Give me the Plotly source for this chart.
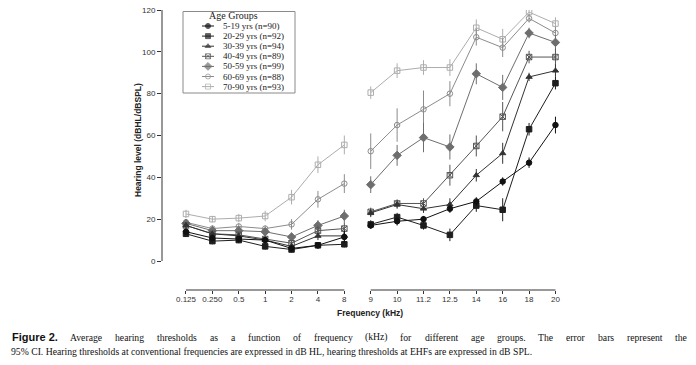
import plotly.graph_objects as go

# ---------------- data ----------------
freq_conv = ["0.125", "0.250", "0.5", "1", "2", "4", "8"]
freq_ehf = ["9", "10", "11.2", "12.5", "14", "16", "18", "20"]

group_labels = ["5-19 yrs (n=90)", "20-29 yrs (n=92)", "30-39 yrs (n=94)",
                "40-49 yrs (n=89)", "50-59 yrs (n=99)", "60-69 yrs (n=88)",
                "70-90 yrs (n=93)"]

# mean thresholds, conventional frequencies (dB HL)
conv_5_19 = [14, 11, 10.5, 10, 6, 7.5, 11.5]
conv_20_29 = [13, 9.5, 10, 7, 5.5, 7.5, 8]
conv_30_39 = [17, 13, 12, 10, 7, 12, 12]
conv_40_49 = [17, 13, 12.5, 10.5, 8.5, 14.5, 15.5]
conv_50_59 = [18, 14.5, 14.5, 14, 11.5, 17, 21.5]
conv_60_69 = [18.5, 15.5, 16.5, 15.5, 17.5, 29.5, 37]
conv_70_90 = [22.5, 20, 20.5, 21.5, 30.5, 46, 55.5]

# mean thresholds, extended high frequencies (dB SPL)
ehf_5_19 = [17, 19, 20, 25, 28.5, 38, 47, 65]
ehf_20_29 = [17.5, 21, 17, 12.5, 26.5, 24.5, 63, 85]
ehf_30_39 = [23, 27, 25, 27, 41, 51.5, 88, 91]
ehf_40_49 = [23.5, 27.5, 27.5, 41, 55, 69, 97.5, 97.5]
ehf_50_59 = [36.5, 50.5, 59, 54.5, 89.5, 83, 109, 104.5]
ehf_60_69 = [52.5, 65, 72.5, 80, 107, 102, 116, 109]
ehf_70_90 = [80.5, 91, 92.5, 92.5, 111.5, 106, 119, 113.5]

# 95% CI half widths
ci_conv_5_19 = [1.5, 1.5, 1.5, 1.5, 1.5, 1.5, 3]
ci_conv_20_29 = [1.5, 1.5, 1.5, 1.5, 1.5, 1.5, 1.5]
ci_conv_30_39 = [1.5, 1.5, 1.5, 1.5, 1.5, 2, 2.5]
ci_conv_40_49 = [1.5, 1.5, 1.5, 1.5, 1.5, 2.5, 3]
ci_conv_50_59 = [1.5, 1.5, 1.5, 1.5, 2, 2.5, 3]
ci_conv_60_69 = [1.5, 1.5, 1.5, 1.5, 2.5, 4, 4.5]
ci_conv_70_90 = [2, 1.5, 2, 2.5, 3.5, 4, 4.5]

ci_ehf_5_19 = [1.5, 2, 1.5, 2, 2, 2, 2.5, 4]
ci_ehf_20_29 = [2, 2, 2, 3, 3, 5.5, 3, 3]
ci_ehf_30_39 = [2, 2, 2, 3, 3, 5, 2, 3]
ci_ehf_40_49 = [2, 2, 2.5, 5, 5, 7, 3, 4]
ci_ehf_50_59 = [4, 5, 7, 6, 5, 6, 2.5, 3.5]
ci_ehf_60_69 = [8.5, 8, 9, 6, 4, 4.5, 2, 3]
ci_ehf_70_90 = [3, 3.5, 3.5, 4, 4, 5, 1.5, 3]

y_ticks = [0, 20, 40, 60, 80, 100, 120]

caption_line1 = ("Average hearing thresholds as a function of frequency (kHz) for "
                 "different age groups. The error bars represent the")
caption_line2 = ("95% CI. Hearing thresholds at conventional frequencies are expressed "
                 "in dB HL, hearing thresholds at EHFs are expressed in dB SPL.")

# ---------------- styles ----------------
series = [
    (conv_5_19, ehf_5_19, ci_conv_5_19, ci_ehf_5_19),
    (conv_20_29, ehf_20_29, ci_conv_20_29, ci_ehf_20_29),
    (conv_30_39, ehf_30_39, ci_conv_30_39, ci_ehf_30_39),
    (conv_40_49, ehf_40_49, ci_conv_40_49, ci_ehf_40_49),
    (conv_50_59, ehf_50_59, ci_conv_50_59, ci_ehf_50_59),
    (conv_60_69, ehf_60_69, ci_conv_60_69, ci_ehf_60_69),
    (conv_70_90, ehf_70_90, ci_conv_70_90, ci_ehf_70_90),
]
colors = ["#111111", "#1e1e1e", "#333333", "#555555", "#6e6e6e", "#8c8c8c", "#adadad"]
symbols = ["circle", "square", "triangle-up", "square-x-open", "diamond",
           "circle-open", "square-open"]
msizes = [5.5, 5.5, 5.5, 5.5, 6.5, 5.5, 5.5]

PAGE_W, PAGE_H = 696, 365
OFF = 0  # body margin removed by the post script below
PL, PR, PT, PB = 162, 561, 10, 290  # plot area in page pixels


def xp(p):
    return (p - PL) / (PR - PL)


def yp(p):
    return (PB - p) / (PB - PT)


n_conv = len(freq_conv)
x_pos = list(range(n_conv)) + [None] + [n_conv + i for i in range(len(freq_ehf))]
tickvals = list(range(n_conv + len(freq_ehf)))
ticktext = freq_conv + freq_ehf

fig = go.Figure()

for i in reversed(range(len(series))):
    conv, ehf, cc, ce = series[i]
    fig.add_trace(go.Scatter(
        x=x_pos, y=conv + [None] + ehf,
        mode="lines+markers",
        line=dict(color=colors[i], width=1),
        marker=dict(symbol=symbols[i], size=msizes[i], color=colors[i],
                    line=dict(color=colors[i], width=1)),
        error_y=dict(type="data", array=cc + [0] + ce, visible=True,
                     color=colors[i], thickness=1, width=0),
        name=group_labels[i], showlegend=False, connectgaps=False,
    ))

# custom compact legend (pixel-space overlay axes)
leg_rows = [26 + k * 10.1 for k in range(len(group_labels))]
for i, lab in enumerate(group_labels):
    fig.add_trace(go.Scatter(
        x=[202, 208, 214], y=[leg_rows[i]] * 3, mode="lines+markers",
        line=dict(color=colors[i], width=1),
        marker=dict(symbol=symbols[i], size=[0, msizes[i] - 0.5, 0], color=colors[i],
                    line=dict(color=colors[i], width=1)),
        xaxis="x2", yaxis="y2", showlegend=False, hoverinfo="skip",
    ))
    fig.add_annotation(x=221, y=leg_rows[i], xref="x2", yref="y2", text=lab,
                       showarrow=False, xanchor="left", yanchor="middle",
                       font=dict(family="Liberation Serif", size=9, color="#222"))
fig.add_annotation(x=233, y=15.5, xref="x2", yref="y2", text="Age Groups",
                   showarrow=False, xanchor="center", yanchor="middle",
                   font=dict(family="Liberation Serif", size=10, color="#222"))
fig.add_shape(type="rect", xref="x2", yref="y2", x0=183, x1=295, y0=11.5, y1=93,
              line=dict(color="#8a8a8a", width=1))

# axis lines
fig.add_shape(type="line", xref="paper", yref="y", x0=0, x1=0, y0=0, y1=120,
              line=dict(color="#333", width=1))
fig.add_shape(type="line", xref="x", yref="paper", x0=0, x1=n_conv - 1, y0=0, y1=0,
              line=dict(color="#333", width=1))
fig.add_shape(type="line", xref="x", yref="paper", x0=n_conv, x1=tickvals[-1], y0=0, y1=0,
              line=dict(color="#333", width=1))

fig.add_annotation(x=xp(138), y=yp(140), xref="paper", yref="paper",
                   text="<b>Hearing level (dBHL/dBSPL)</b>", textangle=-90,
                   xanchor="center", yanchor="middle",
                   showarrow=False, font=dict(family="Liberation Sans", size=8.5, color="#222"))
fig.add_annotation(x=xp(370), y=yp(313), xref="paper", yref="paper",
                   text="<b>Frequency (kHz)</b>", showarrow=False,
                   xanchor="center", yanchor="middle",
                   font=dict(family="Liberation Sans", size=8.5, color="#222"))

# caption (line 1 justified)
TIMES = {' ': 250, '%': 833, '(': 333, ')': 333, ',': 250, '-': 333, '.': 250,
         'A': 722, 'B': 667, 'C': 667, 'D': 722, 'E': 611, 'F': 556, 'H': 722, 'I': 333,
         'L': 611, 'P': 556, 'S': 556, 'T': 611,
         'a': 444, 'b': 500, 'c': 444, 'd': 500, 'e': 444, 'f': 333, 'g': 500, 'h': 500,
         'i': 278, 'j': 278, 'k': 500, 'l': 278, 'm': 778, 'n': 500, 'o': 500, 'p': 500,
         'q': 500, 'r': 333, 's': 389, 't': 278, 'u': 500, 'v': 500, 'w': 722, 'x': 500,
         'y': 500, 'z': 444}


def em(s):
    return sum(TIMES.get(c, 500) for c in s) / 1000.0


cap_fs = 9.7
lab_fs = 11
cap_font = dict(family="Liberation Serif", size=cap_fs, color="#111")
fig_label_w = 4.17 * lab_fs
words = caption_line1.split(" ")
x_left, x_right = 10, 686
x_start = x_left + fig_label_w
gap = (x_right - x_start - sum(em(w) * cap_fs for w in words)) / len(words)
fig.add_annotation(x=xp(x_left), y=yp(337), xref="paper", yref="paper",
                   text="<b>Figure 2.</b>", showarrow=False, xanchor="left", yanchor="middle",
                   font=dict(family="Liberation Sans", size=lab_fs, color="#111"))
cx = x_start + gap
for w in words:
    fig.add_annotation(x=xp(cx), y=yp(337), xref="paper", yref="paper", text=w,
                       showarrow=False, xanchor="left", yanchor="middle", font=cap_font,
                       xshift=-1)
    cx += em(w) * cap_fs + gap
fig.add_annotation(x=xp(x_left), y=yp(351), xref="paper", yref="paper", text=caption_line2,
                   showarrow=False, xanchor="left", yanchor="middle", font=cap_font, xshift=-1)

x_rng = [-0.909, 14.21]
y_rng = [-(PB - 261) / 2.0917, 120]
fig.update_layout(
    width=PAGE_W - OFF, height=PAGE_H - OFF,
    margin=dict(l=PL - OFF, r=PAGE_W - PR, t=PT - OFF, b=PAGE_H - PB, pad=0,
                autoexpand=False),
    paper_bgcolor="white", plot_bgcolor="white",
    hovermode=False,
    font=dict(family="Liberation Sans", size=8, color="#333"),
    xaxis=dict(range=x_rng, tickvals=tickvals, ticktext=ticktext, showgrid=False,
               zeroline=False, showline=False, ticks="outside", ticklen=3,
               tickcolor="#333", tickfont=dict(size=8, color="#333"),
               ticklabelstandoff=-2, automargin=False),
    yaxis=dict(range=y_rng, tickvals=y_ticks, showgrid=False, zeroline=False,
               showline=False, ticks="outside", ticklen=4, tickcolor="#333",
               tickfont=dict(size=8, color="#333"), ticklabeloverflow="allow",
               automargin=False),
    xaxis2=dict(range=[PL, PR], overlaying="x", visible=False, fixedrange=True),
    yaxis2=dict(range=[PB, PT], overlaying="y", visible=False, fixedrange=True),
    showlegend=False,
)

fig.write_html("out.html",
               config={"displayModeBar": False, "staticPlot": True},
               post_script="document.body.style.margin='0px';"
                           "document.body.style.overflow='hidden';")
